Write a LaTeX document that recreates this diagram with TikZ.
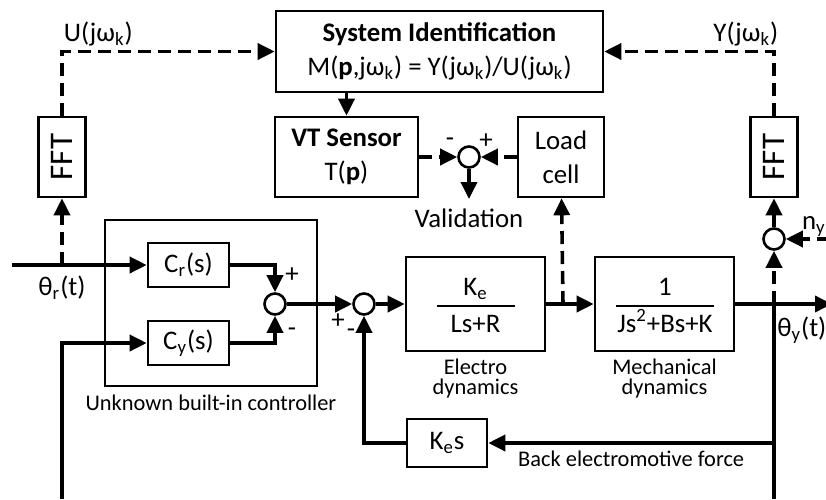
\documentclass[tikz,border=0pt]{standalone}
\usepackage{fontspec}
\setmainfont{Carlito}
\usetikzlibrary{arrows.meta, positioning}
\newcommand{\lgfont}{\fontsize{13.4}{17}\selectfont}
\newcommand{\smfont}{\fontsize{11.2}{10}\selectfont}
\newcommand{\fftfont}{\fontsize{16.5}{18}\selectfont}
\newcommand{\jwk}{jω\textsubscript{k}}

\begin{document}
\begin{tikzpicture}[
    x=0.5pt, y=-0.5pt,
    blk/.style={draw, line width=1.3pt, inner sep=0pt, align=center, font=\lgfont},
    fftbox/.style={blk, minimum width=23.5pt, minimum height=40pt, font=\fftfont},
    sumc/.style={draw, circle, line width=1.3pt, minimum size=10.5pt, inner sep=0pt},
    sig/.style={-{Triangle[length=8.5pt, width=8pt]}, line width=1.8pt},
    dsig/.style={sig, dash pattern=on 6.5pt off 3.5pt},
    lbl/.style={font=\lgfont, inner sep=0pt},
    note/.style={font=\smfont, inner sep=0pt, align=center},
    sgn/.style={font=\lgfont, inner sep=0pt},
    fracline/.style={line width=0.7pt}
]
    \useasboundingbox (0,0) rectangle (826,499);

    % identification part
    \node[blk, minimum width=163.5pt, minimum height=40.5pt] (sysid) at (439.5,51.5)
        {\textbf{System Identification}\\M(\textbf{p},\jwk) = Y(\jwk)/U(\jwk)};
    \node[blk, minimum width=71.5pt, minimum height=40pt] (vt) at (346.5,157) {\textbf{VT Sensor}\\T(\textbf{p})};
    \node[blk, minimum width=43pt, minimum height=40pt] (load) at (561,157) {Load\\cell};
    \node[sumc] (val) at (469,157) {};
    \node[fftbox] (fftl) at (62,157) {\rotatebox{90}{FFT}};
    \node[fftbox] (fftr) at (774,157) {\rotatebox{90}{FFT}};
    \node[sumc] (noise) at (774,239) {};

    % controller
    \node[blk, minimum width=106pt, minimum height=83pt] (ctrl) at (211,303) {};
    \node[note, below=3.5pt of ctrl] (ctrltxt) {Unknown built-in controller};
    \node[blk, minimum width=40.5pt, minimum height=22pt] (cr) at (188.5,265) {C\textsubscript{r}(s)};
    \node[blk, minimum width=40.5pt, minimum height=22pt] (cy) at (188.5,343) {C\textsubscript{y}(s)};
    \node[sumc] (sum1) at (275,304) {};
    \node[sumc] (sum2) at (364,304) {};

    % plant
    \node[blk, minimum width=69.5pt, minimum height=47pt] (elec) at (475.5,304) {};
    \node[lbl, anchor=base] (elecnum) at (475.5,295) {K\textsubscript{e}};
    \node[lbl, anchor=base] (elecden) at (475.5,332) {Ls+R};
    \draw[fracline] (437,306) -- (515,306);
    \node[note, below=3pt of elec] (electxt) {Electro\\dynamics};
    \node[blk, minimum width=69.5pt, minimum height=47pt] (mech) at (664.5,304) {};
    \node[lbl, anchor=base] (mechnum) at (665,295) {1};
    \node[lbl, anchor=base] (mechden) at (665,332) {Js\textsuperscript{2}+Bs+K};
    \node[note, below=3pt of mech] (mechtxt) {Mechanical\\dynamics};
    \draw[fracline] (616,306) -- (714,306);
    \node[blk, minimum width=40pt, minimum height=24pt] (kes) at (447,443) {K\textsubscript{e}s};

    % free ends and taps
    \coordinate (thr) at (12,265);
    \coordinate (tapl) at (62,265);
    \coordinate (fbl) at (62,499);
    \coordinate (tapm) at (563,304);
    \coordinate (tapy) at (774,304);
    \coordinate (tapb) at (774,443);
    \coordinate (yend) at (832,304);
    \coordinate (yfb) at (774,499);
    \coordinate (nyin) at (830,239);
    \coordinate (valend) at (469,199);

    % labels
    \node[lbl, below=5pt of tapl] (thrtxt) {θ\textsubscript{r}(t)};
    \node[lbl, anchor=north west] (thytxt) at (777,316) {θ\textsubscript{y}(t)};
    \node[lbl, anchor=base east] (nytxt) at (826,229) {n\textsubscript{y}};
    \node[lbl, below=4.5pt of valend] (valtxt) {Validation};
    \node[sgn] (s1p) at (292,275) {+};
    \node[sgn] (s1m) at (292,332) {-};
    \node[sgn] (s2p) at (338,321) {+};
    \node[sgn] (s2m) at (351,333) {-};
    \node[sgn] (vm) at (450,142) {-};
    \node[sgn] (vp) at (486,141) {+};

    % signals
    \draw[sig] (thr) -- (cr);
    \draw[sig] (fbl) |- (cy);
    \draw[sig] (cr) -| (sum1);
    \draw[sig] (cy) -| (sum1);
    \draw[sig] (sum1) -- (sum2);
    \draw[sig] (sum2) -- (elec);
    \draw[sig] (elec) -- (mech);
    \draw[sig] (mech) -- (yend);
    \draw[line width=1.8pt] (tapy) -- (yfb);
    \draw[sig] (tapb) -- node[note, midway, below=3pt] (bemf) {Back electromotive force} (kes);
    \draw[sig] (kes) -| (sum2);

    % measurement paths
    \draw[dsig] (tapl) -- (fftl);
    \draw[dsig] (fftl) |- node[lbl, pos=0.5, anchor=south west, yshift=2pt] (ulbl) {U(\jwk)} (sysid);
    \draw[dsig] (fftr) |- node[lbl, pos=0.5, anchor=south east, xshift=3pt, yshift=2pt] (ylbl) {Y(\jwk)} (sysid);
    \draw[sig] (vt.north |- sysid.south) -- (vt);
    \draw[dsig] (vt) -- (val);
    \draw[dsig] (load) -- (val);
    \draw[sig] (val) -- (valend);
    \draw[dsig] (tapm) -- (load);
    \draw[dsig] (tapy) -- (noise);
    \draw[dsig] (noise) -- (fftr);
    \draw[dsig] (nyin) -- (noise);
\end{tikzpicture}
\end{document}
